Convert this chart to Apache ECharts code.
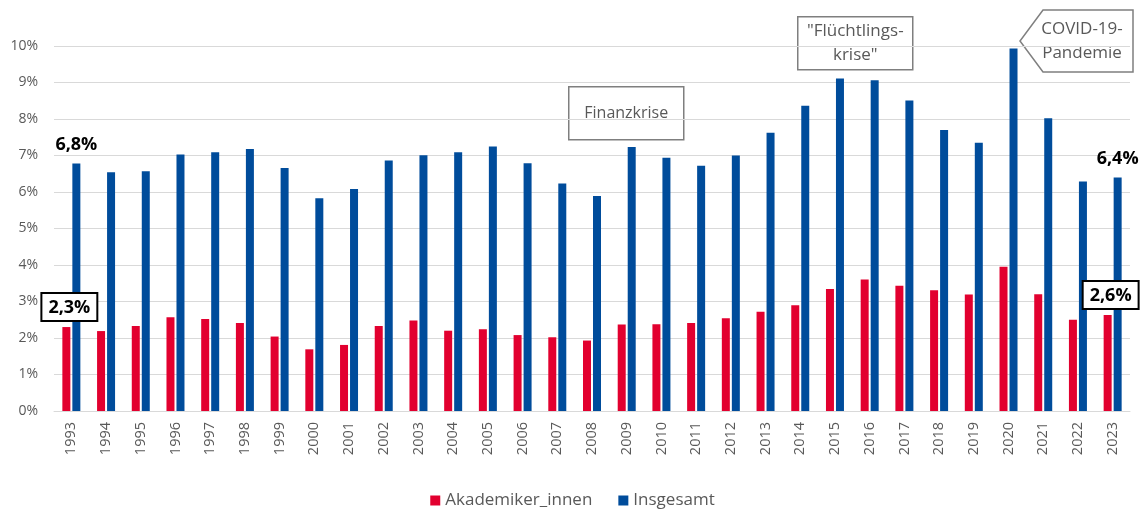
<!DOCTYPE html>
<html>
<head>
<meta charset="utf-8">
<script src="https://cdn.jsdelivr.net/npm/echarts@6/dist/echarts.min.js"></script>
<style>
  html, body { margin: 0; padding: 0; background: #fff; }
  #main { width: 1145px; height: 509px; }
</style>
</head>
<body>
<div id="main"></div>
<script>
const years = ['1993','1994','1995','1996','1997','1998','1999','2000','2001','2002','2003','2004','2005','2006','2007','2008','2009','2010','2011','2012','2013','2014','2015','2016','2017','2018','2019','2020','2021','2022','2023'];
const akademiker = [2.30,2.19,2.33,2.57,2.52,2.41,2.04,1.69,1.81,2.33,2.48,2.20,2.24,2.08,2.02,1.93,2.37,2.38,2.41,2.54,2.72,2.90,3.34,3.60,3.43,3.31,3.19,3.95,3.20,2.50,2.63];
const insgesamt = [6.78,6.54,6.57,7.03,7.09,7.18,6.66,5.83,6.08,6.86,7.01,7.09,7.25,6.79,6.23,5.89,7.23,6.94,6.72,7.00,7.62,8.36,9.11,9.06,8.51,7.70,7.35,9.93,8.02,6.29,6.40];
const yTicks = [0,1,2,3,4,5,6,7,8,9,10];
const labelIdx = [0, 30];

const font = '"Open Sans", "Noto Sans", sans-serif';
const RED = '#e2002f';
const BLUE = '#004c9b';

function pct(v) {
  return v.toFixed(1).replace('.', ',') + '%';
}

const chart = echarts.init(document.getElementById('main'));

const boxLabel = {
  show: true,
  position: 'top',
  distance: 7,
  formatter: p => pct(p.value),
  color: '#000',
  fontFamily: font,
  fontWeight: 'bold',
  fontSize: 18,
  backgroundColor: '#fff',
  borderColor: '#000',
  borderWidth: 2,
  padding: [5, 6, 3, 6],
  offset: [3, 0]
};
const plainLabel = {
  show: true,
  position: 'top',
  distance: 10,
  formatter: p => pct(p.value),
  color: '#000',
  fontFamily: font,
  fontWeight: 'bold',
  fontSize: 18
};

const redData = akademiker.map((v, i) => labelIdx.includes(i) ? {value: v, label: boxLabel} : v);
const blueData = insgesamt.map((v, i) => labelIdx.includes(i) ? {value: v, label: plainLabel} : v);

const option = {
  animation: false,
  textStyle: {fontFamily: font},
  grid: {left: 54, right: 15, top: 46, bottom: 98, containLabel: false},
  legend: {
    data: ['Akademiker_innen', 'Insgesamt'],
    left: 'center',
    top: 487,
    icon: 'rect',
    itemWidth: 10,
    itemHeight: 10,
    itemGap: 26,
    textStyle: {color: '#595959', fontSize: 17, fontFamily: font}
  },
  xAxis: {
    type: 'category',
    data: years,
    axisLine: {lineStyle: {color: '#d9d9d9', width: 1}},
    axisTick: {show: false},
    axisLabel: {rotate: 90, color: '#595959', fontSize: 14.5, margin: 11, fontFamily: font}
  },
  yAxis: {
    type: 'value',
    min: yTicks[0],
    max: yTicks[yTicks.length - 1],
    interval: 1,
    axisLine: {show: false},
    axisTick: {show: false},
    axisLabel: {color: '#595959', fontSize: 14, margin: 16, fontFamily: font, formatter: v => v + '%'},
    splitLine: {lineStyle: {color: '#d9d9d9', width: 1}}
  },
  series: [
    {
      name: 'Akademiker_innen',
      type: 'bar',
      data: redData,
      barWidth: 8,
      barGap: '25%',
      itemStyle: {color: RED}
    },
    {
      name: 'Insgesamt',
      type: 'bar',
      data: blueData,
      barWidth: 8,
      itemStyle: {color: BLUE}
    }
  ],
  graphic: [
    {
      type: 'group', left: 568, top: 86,
      children: [
        {type: 'rect', shape: {x: 0, y: 0, width: 115, height: 53}, style: {fill: '#fff', stroke: '#7f7f7f', lineWidth: 1.5}},
        {type: 'text', x: 57.5, y: 26.5, style: {text: 'Finanzkrise', fill: '#595959', font: '16px ' + font, align: 'center', verticalAlign: 'middle'}}
      ]
    },
    {
      type: 'group', left: 797, top: 16,
      children: [
        {type: 'rect', shape: {x: 0, y: 0, width: 115, height: 53}, style: {fill: '#fff', stroke: '#7f7f7f', lineWidth: 1.5}},
        {type: 'text', x: 57.5, y: 26.5, style: {text: '"Flüchtlings-\nkrise"', fill: '#595959', font: '17px ' + font, lineHeight: 24, align: 'center', verticalAlign: 'middle'}}
      ]
    },
    {
      type: 'polygon',
      shape: {points: [[1043, 10], [1133, 10], [1133, 72], [1043, 72], [1020, 41]]},
      style: {fill: '#fff', stroke: '#7f7f7f', lineWidth: 1.5}
    },
    {
      type: 'text', x: 1082, y: 41,
      style: {text: 'COVID-19-\nPandemie', fill: '#595959', font: '17px ' + font, lineHeight: 24, align: 'center', verticalAlign: 'middle'}
    }
  ]
};

chart.setOption(option);
</script>
</body>
</html>
